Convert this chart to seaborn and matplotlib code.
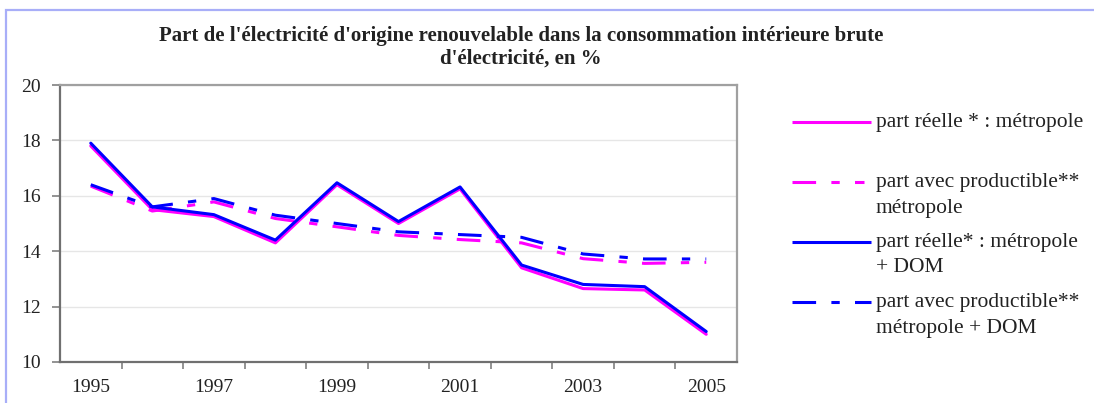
import matplotlib
matplotlib.use('Agg')
import matplotlib.pyplot as plt
import seaborn as sns
import numpy as np
import pandas as pd
from matplotlib.lines import Line2D
from matplotlib.patches import Rectangle

# ---- data ----
years = [1995, 1996, 1997, 1998, 1999, 2000, 2001, 2002, 2003, 2004, 2005]
reelle_metro = [17.8, 15.5, 15.25, 14.3, 16.4, 15.0, 16.25, 13.4, 12.65, 12.6, 11.0]
prod_metro = [16.35, 15.45, 15.78, 15.18, 14.88, 14.57, 14.42, 14.3, 13.73, 13.56, 13.6]
reelle_dom = [17.9, 15.6, 15.32, 14.4, 16.47, 15.07, 16.32, 13.5, 12.8, 12.72, 11.1]
prod_dom = [16.4, 15.6, 15.9, 15.3, 15.0, 14.7, 14.6, 14.5, 13.9, 13.72, 13.72]

series_names = [
    "part réelle * : métropole",
    "part avec productible**\nmétropole",
    "part réelle* : métropole\n+ DOM",
    "part avec productible**\nmétropole + DOM",
]
series_values = [reelle_metro, prod_metro, reelle_dom, prod_dom]
series_colors = ["#FF00FF", "#FF00FF", "#0000FF", "#0000FF"]
year_labels = ["1995", "1997", "1999", "2001", "2003", "2005"]
y_ticks = [10, 12, 14, 16, 18, 20]
title = ("Part de l'électricité d'origine renouvelable dans la consommation intérieure brute\n"
         "d'électricité, en %")

df = pd.concat([
    pd.DataFrame({"année": years, "part": vals, "série": name})
    for name, vals in zip(series_names, series_values)
], ignore_index=True)

# ---- style ----
sns.set_theme(style="white")
plt.rcParams['font.family'] = ['Liberation Serif', 'DejaVu Serif']
plt.rcParams['lines.scale_dashes'] = False

W, H = 1094, 403
fig = plt.figure(figsize=(W / 100, H / 100), dpi=100)
fig.patch.set_facecolor("white")

# outer light-blue frame
fig.add_artist(Rectangle((6 / W, -0.05), 1.2, 1 - 10 / H + 0.05,
                         transform=fig.transFigure, fill=False,
                         edgecolor="#A8AEF8", lw=1.6))

ax = fig.add_axes([60 / W, 1 - 362 / H, (737 - 60) / W, (362 - 85) / H])

LW = 2.2
DASHDOT = (17, 11, 6, 11)
dash_map = {series_names[0]: "", series_names[1]: DASHDOT,
            series_names[2]: "", series_names[3]: DASHDOT}
palette = dict(zip(series_names, series_colors))

sns.lineplot(data=df, x="année", y="part", hue="série", style="série",
             hue_order=series_names, style_order=series_names,
             palette=palette, dashes=dash_map, lw=LW, legend=False, ax=ax)

ax.set_xlim(1994.5, 2005.5)
ax.set_ylim(10, 20)
ax.set_xlabel("")
ax.set_ylabel("")
ax.set_xticks([int(y) for y in year_labels])
ax.set_xticklabels(year_labels)
ax.set_xticks(np.arange(years[0] + 0.5, years[-1], 1), minor=True)
ax.set_yticks(y_ticks)
ax.set_yticklabels([str(v) for v in y_ticks])

ax.grid(axis="y", color="#E6E6E6", lw=1.0)
ax.set_axisbelow(True)
for s in ["left", "bottom"]:
    ax.spines[s].set_color("#707070")
    ax.spines[s].set_linewidth(1.6)
for s in ["top", "right"]:
    ax.spines[s].set_color("#A0A0A0")
    ax.spines[s].set_linewidth(1.6)

TICK_FS = 14
ax.tick_params(axis="x", which="major", bottom=True, length=0, pad=12,
               labelsize=TICK_FS, labelcolor="#222222")
ax.tick_params(axis="x", which="minor", bottom=True, length=5, width=1.2,
               color="#808080", direction="out")
ax.tick_params(axis="y", which="major", left=True, length=6, width=1.2,
               color="#808080", direction="out", pad=8, labelsize=TICK_FS,
               labelcolor="#222222")

# title
fig.text(521 / W, 1 - 47 / H, title, ha="center", va="center",
         fontsize=15, fontweight="bold", color="#222222", linespacing=1.2)

# legend (manual, handles aligned to first text line)
LEG_FS = 15.5
leg_rows = [122, 182, 242, 302]
handle_x1 = [871, 864, 871, 871]
for i, (name, col) in enumerate(zip(series_names, series_colors)):
    y = 1 - leg_rows[i] / H
    kw = {} if dash_map[name] == "" else {"dashes": DASHDOT}
    fig.add_artist(Line2D([792 / W, handle_x1[i] / W], [y, y],
                          transform=fig.transFigure, color=col, lw=LW,
                          solid_capstyle="butt", dash_capstyle="butt", **kw))
    for j, line in enumerate(name.split("\n")):
        fig.text(876 / W, 1 - (leg_rows[i] + 26 * j) / H, line,
                 ha="left", va="center", fontsize=LEG_FS, color="#222222")

fig.savefig("out.png", dpi=100)
